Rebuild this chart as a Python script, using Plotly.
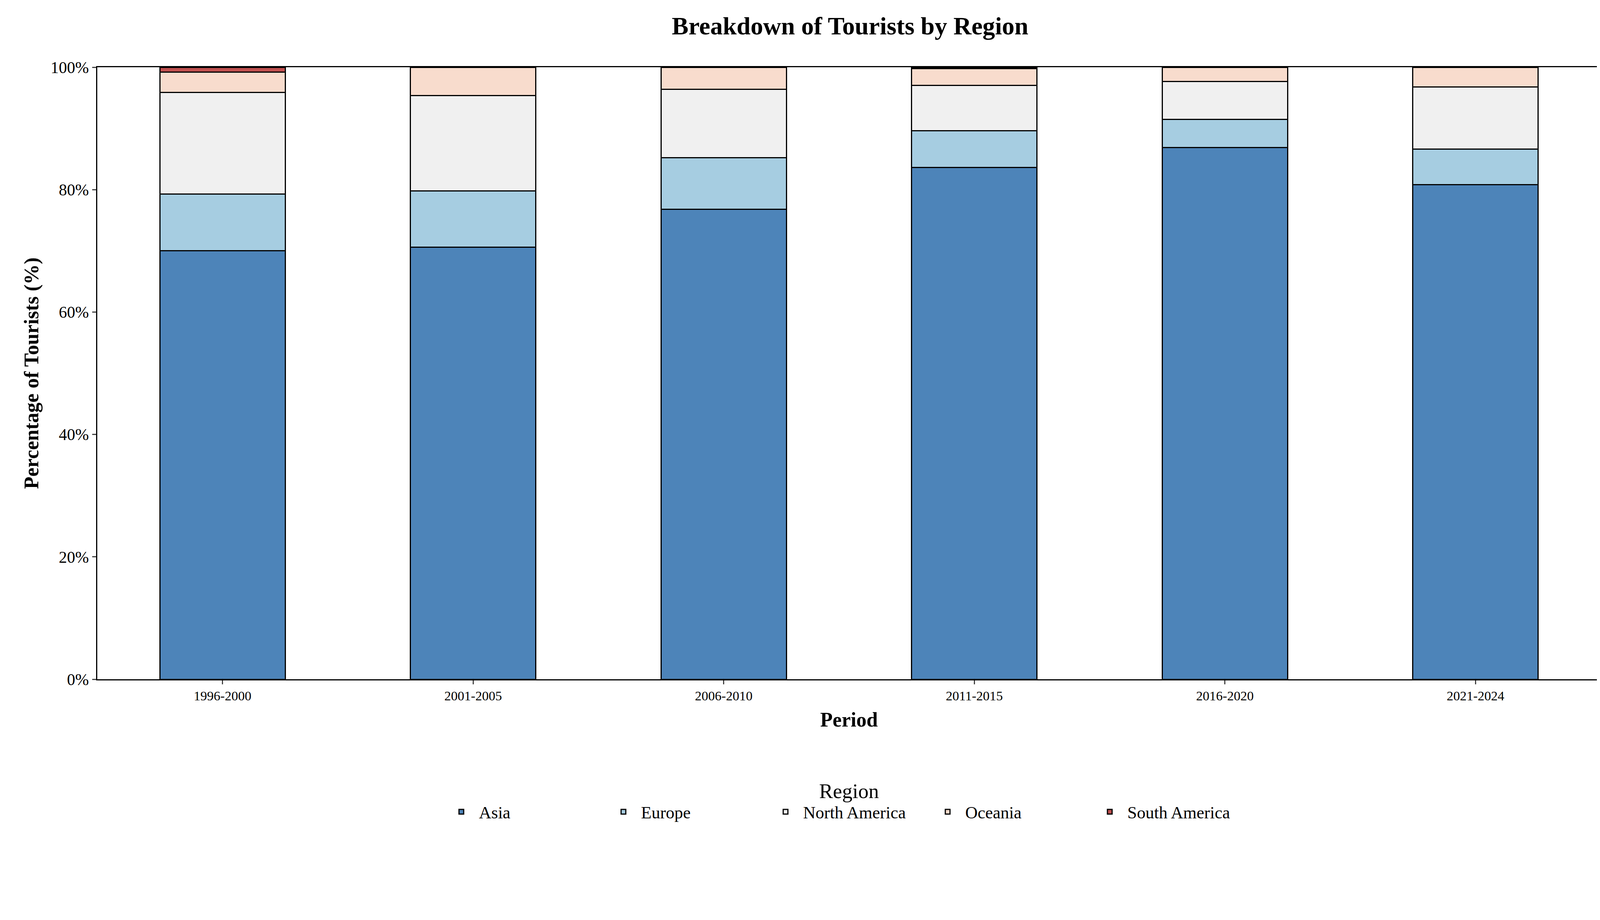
import plotly.graph_objects as go

periods = ["1996-2000", "2001-2005", "2006-2010", "2011-2015", "2016-2020", "2021-2024"]
asia = [70.0, 70.6, 76.8, 83.6, 86.9, 80.8]
europe = [9.3, 9.2, 8.4, 6.0, 4.6, 5.8]
north_america = [16.6, 15.6, 11.2, 7.4, 6.2, 10.2]
oceania = [3.3, 4.6, 3.6, 2.8, 2.3, 3.2]
south_america = [0.8, 0.0, 0.0, 0.2, 0.0, 0.0]
y_ticks = [0, 20, 40, 60, 80, 100]

series = [
    ("Asia", asia, "#4d84b9"),
    ("Europe", europe, "#a6cde1"),
    ("North America", north_america, "#f0f0f0"),
    ("Oceania", oceania, "#f8dccd"),
    ("South America", south_america, "#c0504f"),
]

fig = go.Figure()
for name, vals, col in series:
    fig.add_trace(go.Bar(x=periods, y=vals, name=name, width=0.5,
                         marker=dict(color=col, line=dict(color="black", width=3))))

font = "Liberation Serif"
fig.update_layout(
    barmode="stack",
    width=4130, height=2330,
    paper_bgcolor="white", plot_bgcolor="white",
    font=dict(family=font, size=42, color="black"),
    title=dict(text="<b>Breakdown of Tourists by Region</b>", x=0.525, xanchor="center",
               y=0.985, yanchor="top", font=dict(size=64)),
    margin=dict(l=241, r=40, t=164, b=600),
    xaxis=dict(title=dict(text="<b>Period</b>", font=dict(size=52), standoff=25),
               tickfont=dict(size=34), showline=True, linecolor="black", linewidth=3,
               mirror=True, ticks="outside", ticklen=10, tickwidth=3),
    yaxis=dict(title=dict(text="<b>Percentage of Tourists (%)</b>", font=dict(size=52)),
               range=[0, 100], tickmode="array", tickvals=y_ticks,
               ticktext=[f"{v}%" for v in y_ticks],
               tickfont=dict(size=42), showline=True, linecolor="black", linewidth=3,
               mirror=True, ticks="outside", ticklen=10, tickwidth=3, showgrid=False),
    legend=dict(orientation="h", x=0.5, xanchor="center", y=-0.15, yanchor="top",
                traceorder="normal", entrywidth=320, itemwidth=80,
                title=dict(text="Region", side="top center"), font=dict(size=44)),
    annotations=[dict(text="Note: Africa is excluded due to negligible percentage.",
                      xref="paper", yref="paper", x=0.5, y=-0.38, yanchor="top",
                      showarrow=False, font=dict(size=40, color="gray"))],
)

fig.write_html("out.html")
